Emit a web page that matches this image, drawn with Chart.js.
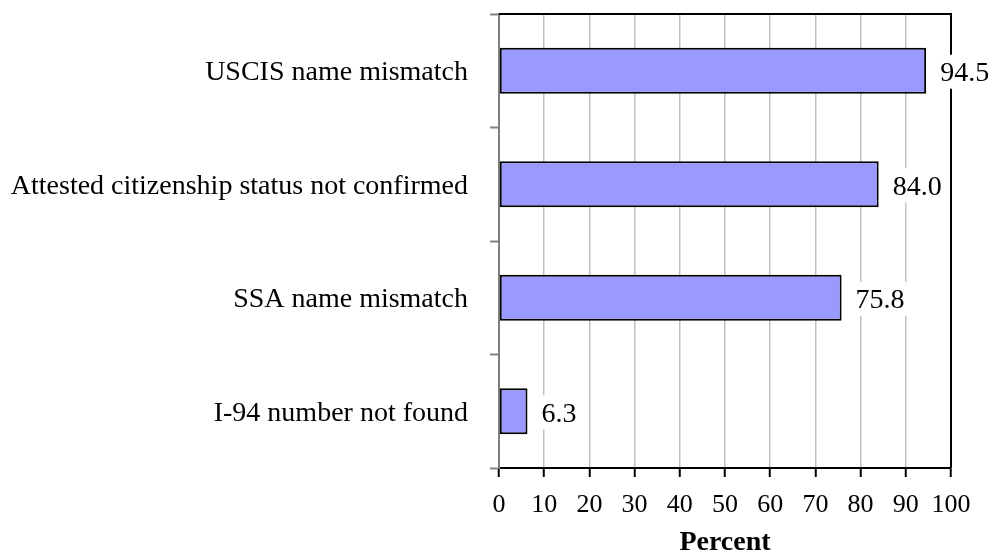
<!DOCTYPE html>
<html>
<head>
<meta charset="utf-8">
<script src="https://cdn.jsdelivr.net/npm/chart.js@4.4.0/dist/chart.umd.min.js"></script>
<style>
  body { margin: 0; background: #fff; }
  #wrap { width: 988px; height: 553px; }
</style>
</head>
<body>
<div id="wrap"><canvas id="chart" width="988" height="553"></canvas></div>
<script>
// values
const categories = [
  "USCIS name mismatch",
  "Attested citizenship status not confirmed",
  "SSA name mismatch",
  "I-94 number not found"
];
const percents = [94.5, 84.0, 75.8, 6.3];
const xTicks = [0, 10, 20, 30, 40, 50, 60, 70, 80, 90, 100];

const FONT = "'Liberation Serif', 'Times New Roman', serif";

// top and right frame lines, drawn under the bars and labels
const frame = {
  id: 'frame',
  beforeDatasetsDraw(chart) {
    const { ctx, chartArea: a } = chart;
    ctx.save();
    ctx.strokeStyle = '#000';
    ctx.lineWidth = 2;
    ctx.beginPath();
    ctx.moveTo(a.left, a.top);
    ctx.lineTo(a.right, a.top);
    ctx.lineTo(a.right, a.bottom);
    ctx.stroke();
    ctx.restore();
  }
};

// value labels with a white box behind them
const valueLabels = {
  id: 'valueLabels',
  afterDatasetsDraw(chart) {
    const { ctx } = chart;
    const meta = chart.getDatasetMeta(0);
    ctx.save();
    ctx.font = '28px ' + FONT;
    ctx.textBaseline = 'middle';
    meta.data.forEach((bar, i) => {
      const txt = percents[i].toFixed(1);
      const w = ctx.measureText(txt).width;
      const x = bar.x + 14;
      ctx.fillStyle = '#fff';
      ctx.fillRect(x - 4, bar.y - 16, w + 8, 34);
      ctx.fillStyle = '#000';
      ctx.fillText(txt, x, bar.y + 3);
    });
    ctx.restore();
  }
};

new Chart(document.getElementById('chart'), {
  type: 'bar',
  data: {
    labels: categories,
    datasets: [{
      data: percents,
      backgroundColor: '#9999ff',
      borderColor: '#000',
      borderWidth: 2,
      borderSkipped: false,
      categoryPercentage: 1,
      barPercentage: 0.405
    }]
  },
  options: {
    indexAxis: 'y',
    responsive: false,
    animation: false,
    layout: { padding: { top: 14, right: 37, bottom: 0, left: 0 } },
    plugins: {
      legend: { display: false },
      tooltip: { enabled: false }
    },
    scales: {
      x: {
        min: 0,
        max: 100,
        afterBuildTicks: s => { s.ticks = xTicks.map(v => ({ value: v })); },
        afterFit: s => { s.height = 85; s.paddingLeft = 0; s.paddingRight = 0; },
        grid: {
          color: '#c0c0c0',
          lineWidth: 1.5,
          tickColor: '#000',
          tickLength: 9,
          tickWidth: 2
        },
        border: { color: '#000', width: 2 },
        ticks: {
          color: '#000',
          padding: 13,
          font: { family: FONT, size: 26 }
        },
        title: {
          display: true,
          text: 'Percent',
          color: '#000',
          padding: { top: 0, bottom: -7 },
          font: { family: FONT, size: 28, weight: 'bold' }
        }
      },
      y: {
        afterFit: s => { s.width = 499; s.paddingTop = 0; s.paddingBottom = 0; },
        grid: {
          offset: true,
          drawOnChartArea: false,
          tickColor: '#808080',
          tickLength: 9,
          tickWidth: 2
        },
        border: { color: '#808080', width: 2 },
        ticks: {
          color: '#000',
          padding: 22,
          labelOffset: 2,
          font: { family: FONT, size: 28 }
        }
      }
    }
  },
  plugins: [frame, valueLabels]
});
</script>
</body>
</html>
